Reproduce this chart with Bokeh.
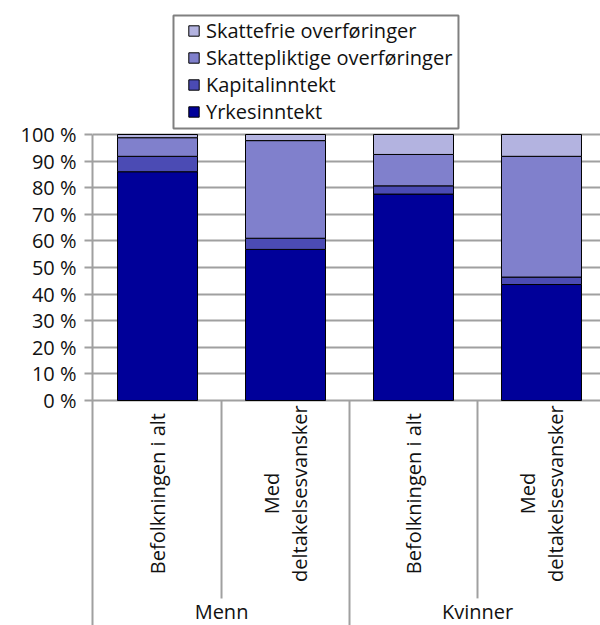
from bokeh.plotting import figure
from bokeh.models import (Range1d, FixedTicker, Legend, LegendItem, ColumnDataSource)
from bokeh.core.properties import value
from bokeh.embed import file_html
from bokeh.resources import INLINE

# ---- data ----
groups = ["Menn", "Kvinner"]
subcats = ["Befolkningen i alt", "Med\ndeltakelsesvansker",
           "Befolkningen i alt", "Med\ndeltakelsesvansker"]
group_of = ["Menn", "Menn", "Kvinner", "Kvinner"]
series = ["Yrkesinntekt", "Kapitalinntekt", "Skattepliktige overføringer", "Skattefrie overføringer"]
yrkesinntekt = [86.0, 56.8, 77.6, 43.6]
kapitalinntekt = [5.8, 4.2, 3.1, 2.8]
skattepliktige = [7.0, 36.7, 11.8, 45.4]
skattefrie = [1.2, 2.3, 7.5, 8.2]
y_ticks = list(range(0, 101, 10))
y_tick_labels = {t: f"{t} %" for t in y_ticks}

colors = ["#000099", "#4b4bb4", "#8080cc", "#b3b3e0"]
FONT = "Open Sans"
FS = "20px"
GRID = "#a0a0a0"
TXT = "#111111"

n = len(subcats)
xs = [i + 0.5 for i in range(n)]
src = ColumnDataSource(dict(x=xs, Yrkesinntekt=yrkesinntekt, Kapitalinntekt=kapitalinntekt,
                            **{"Skattepliktige overføringer": skattepliktige,
                               "Skattefrie overføringer": skattefrie}))

X0, X1 = -0.008, 3.961
Y_BOTTOM, Y_TOP = -84.59, 150.38
p = figure(width=600, height=625, output_backend="svg", toolbar_location=None,
           x_range=Range1d(X0, X1), y_range=Range1d(Y_BOTTOM, Y_TOP),
           x_axis_location=None, min_border_left=92, min_border_right=0,
           min_border_top=0, min_border_bottom=0)
p.outline_line_color = None
p.background_fill_color = "white"
p.xgrid.visible = False
p.ygrid.ticker = FixedTicker(ticks=y_ticks)
p.ygrid.grid_line_color = GRID
p.ygrid.grid_line_width = 2

ax = p.yaxis[0]
ax.ticker = FixedTicker(ticks=y_ticks)
ax.bounds = (Y_BOTTOM, 100)
ax.major_label_overrides = y_tick_labels
ax.axis_line_color = GRID
ax.axis_line_width = 2
ax.major_tick_line_color = GRID
ax.major_tick_line_width = 2
ax.major_tick_out = 8
ax.major_tick_in = 0
ax.minor_tick_line_color = None
ax.major_label_text_font = FONT
ax.major_label_text_font_size = FS
ax.major_label_text_color = TXT
ax.major_label_standoff = 8

renderers = p.vbar_stack(series, x="x", width=0.625, source=src, color=colors,
                         line_color="black", line_width=1)

# category separators below the axis
sep_x = list(range(1, n))
sep_y1 = [Y_BOTTOM if group_of[i - 1] != group_of[i] else -74.4 for i in sep_x]
p.segment(x0=sep_x, y0=[0] * len(sep_x), x1=sep_x, y1=sep_y1, line_color=GRID, line_width=2)

# sub-category labels (rotated)
p.text(x=xs, y=[-35.0] * n, text=subcats, angle=1.5708, text_align="center",
       text_baseline="middle", text_font=value(FONT), text_font_size=FS,
       text_color=TXT, text_line_height=1.05)

# group labels
gx = []
for g in groups:
    idx = [i for i in range(n) if group_of[i] == g]
    gx.append((idx[0] + idx[-1] + 1) / 2)
p.text(x=gx, y=[-79.5] * len(groups), text=groups, text_align="center",
       text_baseline="middle", text_font=value(FONT), text_font_size=FS,
       text_color=TXT)

# legend frame (drawn in plot space above the 100 % line)
p.quad(left=[0.6248], right=[2.8514], bottom=[102.26], top=[144.74],
       fill_color="white", line_color="#808080", line_width=2)

items = [LegendItem(label=s, renderers=[r]) for s, r in zip(series, renderers)][::-1]
legend = Legend(items=items, location=(95, 500), orientation="vertical")
legend.border_line_color = None
legend.background_fill_alpha = 0
legend.label_text_font = FONT
legend.label_text_font_size = FS
legend.label_text_color = TXT
legend.glyph_width = 13
legend.glyph_height = 13
legend.label_height = 20
legend.spacing = -2
legend.padding = 0
legend.margin = 0
legend.label_standoff = 6
p.add_layout(legend)

open("out.html", "w").write(file_html(p, INLINE))
